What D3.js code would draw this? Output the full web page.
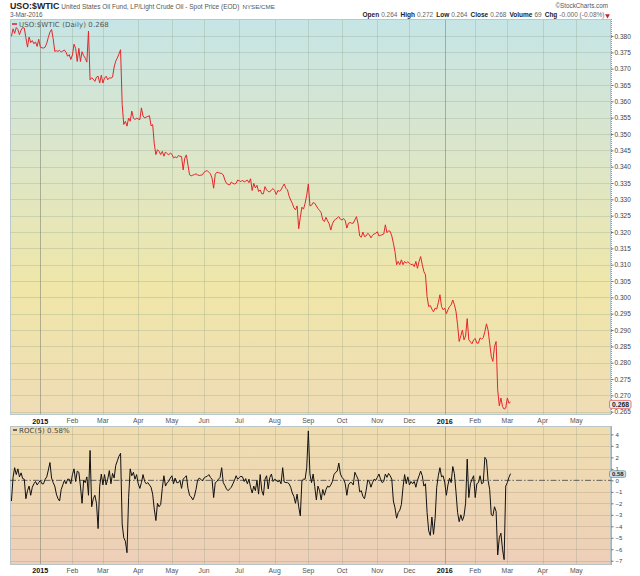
<!DOCTYPE html>
<html><head><meta charset="utf-8">
<script src="https://cdnjs.cloudflare.com/ajax/libs/d3/7.8.5/d3.min.js"></script>
<style>
html,body{margin:0;padding:0;background:#fff;}
svg{display:block;font-family:"Liberation Sans",Arial,sans-serif;}
</style></head><body>
<svg id="chart" width="640" height="576"></svg>
<script>
// ---------------- data ----------------
const symbol = "USO:$WTIC";
const subtitle = "United States Oil Fund, LP/Light Crude Oil - Spot Price (EOD)";
const exchange = "NYSE/CME";
const dateLabel = "3-Mar-2016";
const quoteLabels = ["Open", "High", "Low", "Close", "Volume", "Chg"];
const quoteValues = ["0.264", "0.272", "0.264", "0.268", "69", "-0.000 (-0.08%)"];
const priceLegend = "USO:$WTIC (Daily) 0.268";
const rocLegend = "ROC(5) 0.58%";
const lastPriceLabel = "0.268";
const lastRocLabel = "0.58";

const startDate = "2014-12-05";
const endDate = "2016-05-31";
const holidays = ["2014-12-25","2015-01-01","2015-01-19","2015-02-16","2015-04-03","2015-05-25",
  "2015-07-03","2015-09-07","2015-11-26","2015-12-25","2016-01-01","2016-01-18","2016-02-15",
  "2016-03-25","2016-05-30"];

const monthLabels = ["2015","Feb","Mar","Apr","May","Jun","Jul","Aug","Sep","Oct","Nov","Dec",
  "2016","Feb","Mar","Apr","May"];

const priceTicks = [0.380,0.375,0.370,0.365,0.360,0.355,0.350,0.345,0.340,0.335,0.330,0.325,
  0.320,0.315,0.310,0.305,0.300,0.295,0.290,0.285,0.280,0.275,0.270,0.265];
const rocTicks = [4,3,2,1,0,-1,-2,-3,-4,-5,-6,-7];

const price = [
0.3799,0.3822,0.3808,0.3826,0.3820,0.3804,0.3818,0.3826,0.3824,0.3795,
0.3766,0.3797,0.3780,0.3786,0.3776,0.3782,0.3768,0.3790,0.3766,0.3764,
0.3763,0.3766,0.3778,0.3796,0.3812,0.3820,0.3792,0.3753,0.3755,0.3753,
0.3756,0.3751,0.3754,0.3757,0.3750,0.3738,0.3743,0.3728,0.3742,0.3775,
0.3762,0.3722,0.3762,0.3722,0.3752,0.3740,0.3732,0.3720,0.3815,0.3666,
0.3672,0.3668,0.3661,0.3674,0.3677,0.3656,0.3680,0.3656,0.3671,0.3677,
0.3666,0.3672,0.3671,0.3674,0.3705,0.3723,0.3733,0.3745,0.3758,0.3590,
0.3529,0.3539,0.3524,0.3549,0.3539,0.3570,0.3549,0.3544,0.3549,0.3546,
0.3544,0.3580,0.3555,0.3549,0.3552,0.3554,0.3556,0.3525,0.3529,0.3470,
0.3437,0.3452,0.3447,0.3437,0.3447,0.3432,0.3445,0.3440,0.3436,0.3442,
0.3438,0.3427,0.3430,0.3427,0.3434,0.3432,0.3431,0.3390,0.3426,0.3436,
0.3405,0.3375,0.3372,0.3374,0.3376,0.3378,0.3375,0.3373,0.3374,0.3375,
0.3383,0.3386,0.3388,0.3383,0.3378,0.3365,0.3334,0.3377,0.3383,0.3382,
0.3380,0.3379,0.3375,0.3359,0.3349,0.3346,0.3344,0.3353,0.3349,0.3347,
0.3349,0.3359,0.3357,0.3354,0.3359,0.3353,0.3356,0.3359,0.3351,0.3363,
0.3327,0.3349,0.3335,0.3343,0.3324,0.3329,0.3317,0.3317,0.3339,0.3329,
0.3324,0.3323,0.3329,0.3333,0.3327,0.3315,0.3327,0.3325,0.3329,0.3339,
0.3347,0.3334,0.3329,0.3310,0.3298,0.3288,0.3274,0.3268,0.3280,0.3210,
0.3245,0.3276,0.3270,0.3288,0.3313,0.3347,0.3280,0.3282,0.3290,0.3288,
0.3280,0.3272,0.3266,0.3259,0.3237,0.3232,0.3245,0.3234,0.3225,0.3206,
0.3225,0.3235,0.3239,0.3243,0.3247,0.3239,0.3237,0.3241,0.3235,0.3212,
0.3227,0.3229,0.3227,0.3227,0.3237,0.3247,0.3225,0.3188,0.3184,0.3200,
0.3186,0.3188,0.3196,0.3192,0.3182,0.3190,0.3194,0.3196,0.3201,0.3188,
0.3190,0.3192,0.3194,0.3222,0.3198,0.3204,0.3202,0.3188,0.3166,0.3140,
0.3100,0.3110,0.3100,0.3115,0.3100,0.3110,0.3105,0.3109,0.3105,0.3100,
0.3102,0.3094,0.3110,0.3089,0.3110,0.3125,0.3100,0.3079,0.3069,0.3002,
0.2972,0.2975,0.2964,0.2956,0.2967,0.2964,0.2984,0.3008,0.2972,0.2962,
0.2967,0.2950,0.2962,0.2972,0.2977,0.2992,0.2978,0.2957,0.2916,0.2865,
0.2882,0.2900,0.2870,0.2882,0.2935,0.2870,0.2864,0.2858,0.2870,0.2874,
0.2860,0.2860,0.2876,0.2872,0.2877,0.2895,0.2919,0.2900,0.2860,0.2819,
0.2804,0.2850,0.2865,0.2717,0.2668,0.2692,0.2666,0.2658,0.2661,0.2692,
0.2676,0.2680];

const roc = [
-1.8,0.25,1.1,0.5,1.0,0.3,0.65,0.15,0.1,-1.6,
-0.9,-0.5,-1.3,-0.6,-0.3,-0.1,-0.4,-0.2,0.0,-0.3,
-0.3,0.1,0.3,0.9,1.55,0.2,-0.2,-0.5,-1.2,-1.6,
-1.8,-0.8,-0.4,0.0,-0.3,0.1,0.1,-0.3,0.5,1.0,
-0.1,0.8,0.7,-0.5,-2.0,0.0,-0.2,0.3,-1.3,2.6,
-2.3,-1.6,-1.3,-2.0,-4.2,-0.5,0.55,-0.4,0.5,-0.4,
0.1,0.85,-0.3,0.6,0.2,1.3,1.7,2.1,2.35,-3.8,
-5.0,-5.3,-6.3,-1.5,1.0,0.4,0.7,0.1,0.5,-0.3,
-0.7,-0.2,0.5,-0.1,-0.3,-0.2,-0.4,-0.6,-1.2,-2.5,
-3.5,-2.0,-2.3,-2.1,-0.7,0.4,-0.5,-0.2,-0.1,0.2,
0.4,-0.3,0.2,-0.2,-0.2,0.0,-0.7,0.1,0.25,0.4,
-0.7,-1.3,-1.45,-1.7,-1.4,-0.8,0.0,0.2,0.1,-0.05,
0.2,0.3,0.35,0.5,0.25,0.1,-1.5,-0.2,-0.1,0.1,
0.25,1.1,-0.2,-0.45,-0.75,-0.9,-0.75,-0.6,-0.3,0.0,
0.4,0.1,0.25,0.35,0.3,-0.1,0.15,-0.3,0.1,-0.6,
-1.1,-0.5,-0.9,0.0,-1.2,0.5,-0.9,-1.3,0.1,0.4,
-0.75,0.25,0.55,-0.1,0.1,0.0,-0.15,0.0,-0.3,1.1,
-0.15,-0.2,-0.2,-0.3,-0.6,-1.1,-1.4,-2.0,-1.2,-2.3,
-3.1,-0.03,0.1,0.1,1.1,4.3,0.55,-0.2,0.55,-0.55,
-1.7,-0.5,-0.9,-1.7,-0.8,-1.3,-0.8,-0.5,-0.6,-0.4,
-0.1,0.5,0.7,0.8,1.5,0.55,0.26,0.1,-0.3,-1.3,
-0.4,-0.2,-0.2,-0.4,0.7,0.4,0.1,-1.0,-0.9,-1.4,
-1.6,-0.9,0.0,-0.1,-0.6,-0.2,0.1,0.0,0.26,0.55,
0.1,-0.2,-0.1,0.55,0.26,0.6,0.4,0.1,-1.8,-2.4,
-3.3,-2.8,-2.6,-2.1,-0.6,0.5,-0.3,0.3,-0.4,-0.1,
-0.3,-0.1,-0.6,0.0,0.4,0.8,0.4,-0.5,-0.3,-2.8,
-4.4,-4.8,-3.2,-4.7,-3.3,-0.6,0.4,1.1,0.3,0.4,
-0.2,-1.3,-0.4,0.2,-0.2,1.2,0.6,-1.0,-2.8,-3.6,
-3.0,-3.5,-3.1,-2.0,1.85,-1.5,-0.3,0.1,0.4,-1.5,
-0.3,-0.2,0.4,-0.3,-0.2,2.0,1.8,0.0,-0.8,-3.0,
-3.1,-2.3,-2.7,-6.5,-5.0,-4.6,-6.0,-6.9,-0.5,-0.2,
0.26,0.58];

// ---------------- layout ----------------
const L = 10, R = 611;
const mainTop = 19, mainBot = 415, rocTop = 426, rocBot = 565;

const fmtDay = d3.utcFormat("%Y-%m-%d");
const dates = d3.utcDay.range(d3.isoParse(startDate), d3.utcDay.offset(d3.isoParse(endDate), 1))
  .filter(d => d.getUTCDay() % 6 !== 0 && !holidays.includes(fmtDay(d)));

const monthStarts = [];
dates.forEach((d, i) => {
  if (i > 0 && d.getUTCMonth() !== dates[i - 1].getUTCMonth()) monthStarts.push(i);
});

const x = d3.scaleLinear().domain([-0.9, 373.6]).range([L, R]);
const yP = d3.scaleLinear().domain([0.2640, 0.3852]).range([mainBot, mainTop]);
const yR = d3.scaleLinear().domain([-7.37, 4.73]).range([rocBot, rocTop]);

const svg = d3.select("#chart");
const defs = svg.append("defs");

const g1 = defs.append("linearGradient").attr("id", "bgMain").attr("x1", 0).attr("y1", 0).attr("x2", 0).attr("y2", 1);
[["0%", "#c6e5e6"], ["40%", "#dfe6c4"], ["68%", "#f0e6a8"], ["100%", "#efdcb6"]]
  .forEach(([o, c]) => g1.append("stop").attr("offset", o).attr("stop-color", c));
const g2 = defs.append("linearGradient").attr("id", "bgRoc").attr("x1", 0).attr("y1", 0).attr("x2", 0).attr("y2", 1);
[["0%", "#efdeb0"], ["100%", "#edcfb8"]]
  .forEach(([o, c]) => g2.append("stop").attr("offset", o).attr("stop-color", c));

defs.append("clipPath").attr("id", "clipMain").append("rect")
  .attr("x", L).attr("y", mainTop).attr("width", R - L).attr("height", mainBot - mainTop);
defs.append("clipPath").attr("id", "clipRoc").append("rect")
  .attr("x", L).attr("y", rocTop).attr("width", R - L).attr("height", rocBot - rocTop);

svg.append("rect").attr("x", L).attr("y", mainTop).attr("width", R - L).attr("height", mainBot - mainTop)
  .attr("fill", "url(#bgMain)");
svg.append("rect").attr("x", L).attr("y", rocTop).attr("width", R - L).attr("height", rocBot - rocTop)
  .attr("fill", "url(#bgRoc)");

// grid
const grid = svg.append("g");
priceTicks.forEach(t => grid.append("line").attr("x1", L).attr("x2", R)
  .attr("y1", Math.round(yP(t)) + 0.5).attr("y2", Math.round(yP(t)) + 0.5)
  .attr("stroke", "#8a9a80").attr("stroke-opacity", 0.28));
rocTicks.forEach(t => { if (t !== 0) grid.append("line").attr("x1", L).attr("x2", R)
  .attr("y1", Math.round(yR(t)) + 0.5).attr("y2", Math.round(yR(t)) + 0.5)
  .attr("stroke", "#9a8a70").attr("stroke-opacity", 0.28); });
monthStarts.forEach((i, k) => {
  const isYear = monthLabels[k] && /^\d{4}$/.test(monthLabels[k]);
  const xx = Math.round(x(i)) + 0.5;
  [[mainTop, mainBot], [rocTop, rocBot]].forEach(([a, b]) => grid.append("line")
    .attr("x1", xx).attr("x2", xx).attr("y1", a).attr("y2", b)
    .attr("stroke", isYear ? "#7a8070" : "#8a9a80")
    .attr("stroke-opacity", isYear ? 0.55 : 0.28));
});

// panel borders
svg.append("rect").attr("x", L + 0.5).attr("y", mainTop + 0.5).attr("width", R - L - 1).attr("height", mainBot - mainTop - 1)
  .attr("fill", "none").attr("stroke", "#b8c8cc");
svg.append("rect").attr("x", L + 0.5).attr("y", rocTop + 0.5).attr("width", R - L - 1).attr("height", rocBot - rocTop - 1)
  .attr("fill", "none").attr("stroke", "#b8c4c8");
svg.append("line").attr("x1", R + 0.5).attr("x2", R + 0.5).attr("y1", mainTop).attr("y2", mainBot)
  .attr("stroke", "#6f9ccc").attr("stroke-dasharray", "1,1");
svg.append("line").attr("x1", R + 0.5).attr("x2", R + 0.5).attr("y1", rocTop).attr("y2", rocBot)
  .attr("stroke", "#9ab4c8");

// zero line
svg.append("line").attr("x1", L).attr("x2", R).attr("y1", yR(0)).attr("y2", yR(0))
  .attr("stroke", "#505050").attr("stroke-width", 0.9).attr("stroke-dasharray", "6,2,1.5,2");

// lines
const linePrice = d3.line().x((d, i) => x(i)).y(d => yP(d));
svg.append("path").datum(price).attr("clip-path", "url(#clipMain)")
  .attr("d", linePrice).attr("fill", "none").attr("stroke", "#e4262b").attr("stroke-width", 1)
  .attr("stroke-linejoin", "round");
const lineRoc = d3.line().x((d, i) => x(i)).y(d => yR(d));
svg.append("path").datum(roc).attr("clip-path", "url(#clipRoc)")
  .attr("d", lineRoc).attr("fill", "none").attr("stroke", "#111").attr("stroke-width", 1)
  .attr("stroke-linejoin", "round");

// right axes
function styleAxis(fs) {
  return g => {
    g.select(".domain").remove();
    g.selectAll(".tick line").attr("stroke", "#777");
    g.selectAll(".tick text").attr("fill", "#444").style("font-size", fs + "px")
      .style("font-family", "'Liberation Sans',Arial,sans-serif");
  };
}
svg.append("g").attr("transform", `translate(${R},0)`)
  .call(d3.axisRight(yP).tickValues(priceTicks).tickFormat(d3.format(".3f")).tickSize(2.5).tickPadding(1))
  .call(styleAxis(6.5));
svg.append("g").attr("transform", `translate(${R},0)`)
  .call(d3.axisRight(yR).tickValues(rocTicks).tickFormat(d3.format("d")).tickSize(2.5).tickPadding(2))
  .call(styleAxis(6));

// last value boxes
function valueBox(yc, label, stroke, fill, fs, hgt) {
  const g = svg.append("g");
  const t = g.append("text").attr("x", R + 1).attr("y", yc).attr("dy", "0.35em")
    .attr("font-size", fs).attr("font-weight", "bold").attr("fill", "#222").text(label);
  const w = t.node().getComputedTextLength();
  g.insert("rect", "text").attr("x", R - 1.5).attr("y", yc - hgt / 2).attr("width", w + 4.5).attr("height", hgt)
    .attr("rx", 1.5).attr("fill", fill).attr("stroke", stroke).attr("stroke-width", 0.8);
}
valueBox(yP(price[price.length - 1]) + 2.5, lastPriceLabel, "#e06060", "#e6eef0", 6.8, 8);
valueBox(yR(roc[roc.length - 1]) + 0.4, lastRocLabel, "#6f8fa0", "#cfe2ea", 6, 6.6);

// x axis labels
[ (mainBot + rocTop) / 2 + 0.5, 570.5 ].forEach(yy => {
  monthStarts.forEach((i, k) => {
    if (k >= monthLabels.length) return;
    const lab = monthLabels[k];
    const isYear = /^\d{4}$/.test(lab);
    svg.append("text").attr("x", x(i)).attr("y", yy).attr("dy", "0.35em")
      .attr("text-anchor", "middle")
      .attr("font-size", isYear ? 7.2 : 6.8).attr("font-weight", isYear ? "bold" : "normal")
      .attr("fill", isYear ? "#111" : "#555").text(lab);
  });
});

// legends
svg.append("line").attr("x1", 12).attr("x2", 17).attr("y1", 24).attr("y2", 24)
  .attr("stroke", "#e4262b").attr("stroke-width", 1.6);
svg.append("text").attr("x", 19).attr("y", 26.5).attr("font-family", "'DejaVu Sans',sans-serif")
  .attr("font-size", 7).attr("fill", "#555").attr("letter-spacing", 0.1).text(priceLegend);
svg.append("line").attr("x1", 13).attr("x2", 17).attr("y1", 430).attr("y2", 430)
  .attr("stroke", "#333").attr("stroke-width", 1.4);
svg.append("text").attr("x", 19).attr("y", 432.5).attr("font-family", "'DejaVu Sans',sans-serif")
  .attr("font-size", 7).attr("fill", "#444").attr("letter-spacing", 0.1).text(rocLegend);

// header
const h = svg.append("text").attr("x", L).attr("y", 9);
h.append("tspan").attr("font-weight", "bold").attr("font-size", 8.8).attr("fill", "#222").text(symbol);
h.append("tspan").attr("font-size", 6.5).attr("fill", "#555").attr("dx", 2).text(subtitle);
h.append("tspan").attr("font-size", 6.2).attr("fill", "#555").attr("dx", 3).text(exchange);
svg.append("text").attr("x", L).attr("y", 16.8).attr("font-size", 6.3).attr("fill", "#555").text(dateLabel);

svg.append("text").attr("x", 608).attr("y", 8.3).attr("text-anchor", "end")
  .attr("font-size", 6.3).attr("fill", "#555").text("\u00A9StockCharts.com");
const q = svg.append("text").attr("x", 604.5).attr("y", 17.3).attr("text-anchor", "end").attr("font-size", 6.5);
quoteLabels.forEach((lab, k) => {
  q.append("tspan").attr("font-weight", "bold").attr("fill", "#222").attr("dx", k ? 3 : 0).text(lab);
  q.append("tspan").attr("fill", "#666").attr("dx", 2).text(quoteValues[k]);
});
svg.append("path").attr("d", d3.symbol(d3.symbolTriangle, 10)())
  .attr("transform", "translate(607.5,15.6) rotate(180)").attr("fill", "#d02020");
</script>
</body></html>
